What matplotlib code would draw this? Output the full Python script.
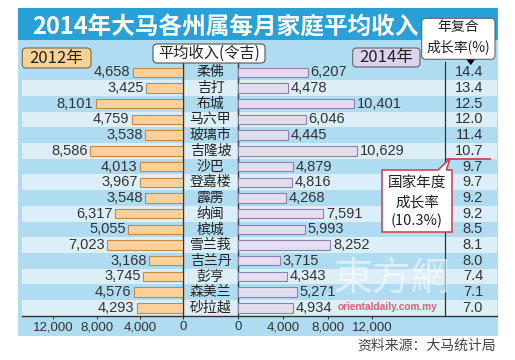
import matplotlib
matplotlib.use('Agg')
import matplotlib.pyplot as plt
from matplotlib.patches import Rectangle, FancyBboxPatch, Polygon

plt.rcParams['font.family'] = ['Noto Sans CJK SC', 'DejaVu Sans']

# data
states = ['柔佛', '吉打', '布城', '马六甲', '玻璃市', '吉隆坡', '沙巴', '登嘉楼',
          '霹雳', '纳闽', '槟城', '雪兰莪', '吉兰丹', '彭亨', '森美兰', '砂拉越']
income_2012 = [4658, 3425, 8101, 4759, 3538, 8586, 4013, 3967,
               3548, 6317, 5055, 7023, 3168, 3745, 4576, 4293]
income_2014 = [6207, 4478, 10401, 6046, 4445, 10629, 4879, 4816,
               4268, 7591, 5993, 8252, 3715, 4343, 5271, 4934]
growth = [14.4, 13.4, 12.5, 12.0, 11.4, 10.7, 9.7, 9.7,
          9.2, 9.2, 8.5, 8.1, 8.0, 7.4, 7.1, 7.0]
national_growth = 10.3
ticks = [0, 4000, 8000, 12000]

W, H = 515, 360
fig = plt.figure(figsize=(W / 100, H / 100), dpi=100)


def px_axes(x0, y0, x1, y1, **kw):
    return fig.add_axes([x0 / W, 1 - y1 / H, (x1 - x0) / W, (y1 - y0) / H], **kw)


n = len(states)
rows = list(range(n))
ytop, ybot = 64.5, 315.7
num_font = 'Liberation Sans'
txt = '#333333'

# background panel
ax_bg = px_axes(0, 0, W, H, zorder=-2)
ax_bg.set_xlim(0, W); ax_bg.set_ylim(H, 0); ax_bg.axis('off')
ax_bg.add_patch(Rectangle((18, 8), 480, 328, color='#afdcf1', lw=0))
ax_bg.add_patch(Rectangle((18, 8), 480, 32, color='#2aa0d8', lw=0))

# stripes, state names, growth column
ax_rows = px_axes(22, ytop, 497, ybot, zorder=0)
ax_rows.set_xlim(22, 497); ax_rows.set_ylim(n - 0.5, -0.5)
ax_rows.patch.set_visible(False)
for s in ['top', 'left', 'right']:
    ax_rows.spines[s].set_visible(False)
ax_rows.spines['bottom'].set_color('#333333')
ax_rows.spines['bottom'].set_linewidth(1)
ax_rows.set_xticks([]); ax_rows.set_yticks([])
for i in rows:
    ax_rows.axhspan(i - 0.5, i + 0.5, color='#dceef8' if i % 2 else '#afdcf1', lw=0, zorder=0)
    ax_rows.text(210.5, i, states[i], ha='center', va='center', fontsize=10, color='#222222')
    ax_rows.text(483, i, f'{growth[i]:.1f}', ha='right', va='center', fontsize=10.5,
                 color=txt, family=num_font)
for xc in (183, 238):
    ax_rows.plot([xc, xc], [-0.6, n - 0.5], color='#333333', lw=1, clip_on=False, zorder=3)
ax_rows.plot([445, 445], [-0.66, n - 0.5], color='#333333', lw=0.9, clip_on=False, zorder=3)
# national growth marker between rows
pos = sum(g > national_growth for g in growth) - 0.5
ax_rows.plot([446.5, 490], [pos, pos], color='#cc4455', lw=1.3, zorder=4)

# bars: 2012 left, 2014 right
ax_l = px_axes(22, ytop, 183, ybot, zorder=1)
ax_l.set_xlim(161 / 10.8 * 1000, 0)
ax_r = px_axes(238, ytop, 497, ybot, zorder=1)
ax_r.set_xlim(0, 259 / 11.2 * 1000)
for ax in (ax_l, ax_r):
    ax.set_ylim(n - 0.5, -0.5)
    ax.patch.set_visible(False)
    for s in ax.spines.values():
        s.set_visible(False)
    ax.set_yticks([])
    ax.set_xticks(ticks)
    ax.set_xticklabels([f'{t:,}' for t in ticks], family=num_font)
    ax.tick_params(axis='x', direction='out', length=2.5, width=0.8, color='#333333',
                   labelsize=9.5, labelcolor=txt, pad=1.5)

ax_l.barh(rows, income_2012, height=0.6, color='#fbd09a', edgecolor='#c58a45', lw=0.8)
ax_r.barh(rows, income_2014, height=0.6, color='#e4dcef', edgecolor='#8d82ad', lw=0.8)
for i in rows:
    ax_l.annotate(f'{income_2012[i]:,}', (income_2012[i], i), xytext=(-1.5, 0),
                  textcoords='offset points', ha='right', va='center', fontsize=10.5,
                  color=txt, family=num_font)
    ax_r.annotate(f'{income_2014[i]:,}', (income_2014[i], i), xytext=(2, 0),
                  textcoords='offset points', ha='left', va='center', fontsize=10.5,
                  color=txt, family=num_font)

# overlay: title, header boxes, callout, watermark, source
ax_top = px_axes(0, 0, W, H, zorder=5)
ax_top.set_xlim(0, W); ax_top.set_ylim(H, 0); ax_top.axis('off')

ax_top.text(32, 26.5, '2014年大马各州属每月家庭平均收入', ha='left', va='center',
            fontsize=17, color='white', fontweight='bold')


def box(x0, y0, x1, y1, fc, ec):
    ax_top.add_patch(FancyBboxPatch((x0, y0), x1 - x0, y1 - y0,
                                    boxstyle='round,pad=0,rounding_size=4',
                                    fc=fc, ec=ec, lw=0.8))


box(22.3, 48, 91, 68, '#fad394', '#7a6a55')
ax_top.text(56.6, 58, '2012年', ha='center', va='center', fontsize=12, color='#222222')
box(153, 44, 265, 63, 'white', '#555555')
ax_top.text(209, 53.5, '平均收入(令吉)', ha='center', va='center', fontsize=11, color='#222222')
box(352.7, 48, 420, 67, '#dcd3ec', '#666666')
ax_top.text(386.3, 57.5, '2014年', ha='center', va='center', fontsize=12, color='#222222')
box(421.7, 18.3, 495, 59.3, 'white', '#666666')
ax_top.text(458.3, 27.5, '年复合', ha='center', va='center', fontsize=10, color='#222222')
ax_top.text(458.3, 47, '成长率(%)', ha='center', va='center', fontsize=10, color='#222222')
ax_top.add_patch(Polygon([(466.3, 59.5), (475.1, 59.5), (470.7, 65)], closed=True,
                         fc='black', ec='none'))

ax_top.add_patch(Polygon([(382, 170), (438, 170), (450, 158.5), (446.5, 170), (452, 170),
                          (452, 232), (382, 232)], closed=True, fc='white',
                         ec='#c8485a', lw=1.2))
ax_top.text(417, 183, '国家年度', ha='center', va='center', fontsize=10.5, color='#222222')
ax_top.text(417, 202.5, '成长率', ha='center', va='center', fontsize=10.5, color='#222222')
ax_top.text(417, 220.5, f'({national_growth}%)', ha='center', va='center', fontsize=10.5,
            color='#222222')

ax_top.text(392, 280, '東方網', ha='center', va='center', fontsize=28, color='white',
            alpha=0.55, family=['Noto Sans CJK TC', 'DejaVu Sans'])
ax_top.text(338, 307, 'orientaldaily.com.my', ha='left', va='center', fontsize=7.3,
            color='#d8546e', fontweight='bold', family=num_font, alpha=0.9)

ax_top.text(496, 346, '资料来源：大马统计局', ha='right', va='center', fontsize=10,
            color='#444444')

fig.savefig('out.png', dpi=100)
